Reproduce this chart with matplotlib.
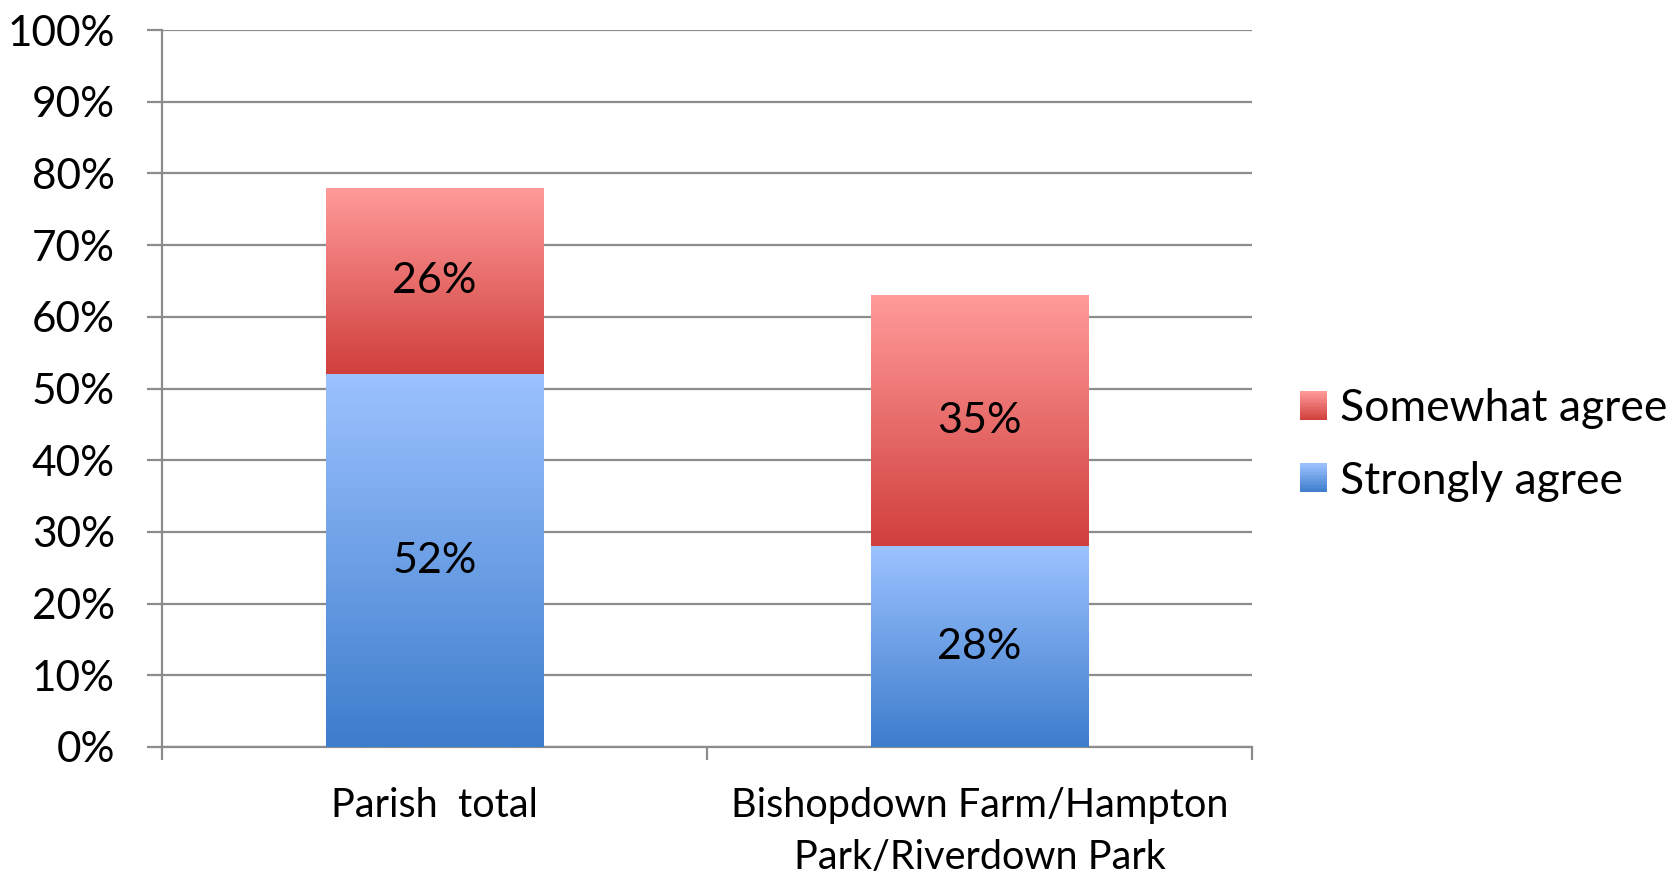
import numpy as np
import matplotlib.pyplot as plt
from matplotlib.colors import LinearSegmentedColormap
from matplotlib.patches import Rectangle
from matplotlib.legend_handler import HandlerBase

plt.rcParams['font.family'] = ['Lato', 'DejaVu Sans']

areas = ['Parish  total', 'Bishopdown Farm/Hampton\nPark/Riverdown Park']
strongly = [52, 28]
somewhat = [26, 35]

blue_cm = LinearSegmentedColormap.from_list('b', ['#3D7DCC', '#9CC2FF'])
red_cm = LinearSegmentedColormap.from_list('r', ['#D03F3C', '#FF9B9A'])

fig = plt.figure(figsize=(16.73, 8.73), dpi=100)
ax = fig.add_axes([162/1673, 1-747/873, 1090/1673, 717/873])

x = np.arange(len(areas))
w = 0.40
grad = np.linspace(0, 1, 256).reshape(-1, 1)

def gbar(xc, bottom, h, cmap):
    b = ax.bar(xc, h, w, bottom=bottom, color='none', zorder=3)[0]
    im = ax.imshow(grad, cmap=cmap, origin='lower', aspect='auto',
                   extent=[xc - w/2, xc + w/2, bottom, bottom + h], zorder=3)
    im.set_clip_path(b)
    return b

for i in range(len(areas)):
    gbar(x[i], 0, strongly[i], blue_cm)
    gbar(x[i], strongly[i], somewhat[i], red_cm)
    ax.text(x[i], strongly[i]/2, '%d%%' % strongly[i], ha='center', va='center',
            fontsize=31, zorder=4)
    ax.text(x[i], strongly[i] + somewhat[i]/2, '%d%%' % somewhat[i], ha='center',
            va='center', fontsize=31, zorder=4)

ax.set_xlim(-0.5, 1.5)
ax.set_ylim(0, 100)
ax.set_yticks(range(0, 101, 10))
ax.set_yticklabels(['%d%%' % v for v in range(0, 101, 10)], fontsize=30.5)
ax.yaxis.grid(True, color='#8c8c8c', linewidth=1.6, zorder=0)
ax.set_axisbelow(True)

ax.set_xticks([-0.5, 0.5, 1.5])
ax.set_xticklabels([])
ax.set_xticks(x, minor=True)
ax.set_xticklabels(areas, minor=True, fontsize=28.5, linespacing=1.5)
ax.tick_params(axis='x', which='minor', length=0, pad=29)
ax.tick_params(axis='x', which='major', length=9.5, width=1.6, color='#8c8c8c')
ax.tick_params(axis='y', length=11, width=1.6, color='#8c8c8c', pad=23)

for s in ['top', 'right']:
    ax.spines[s].set_visible(False)
ax.spines['left'].set_color('#8c8c8c')
ax.spines['left'].set_linewidth(1.6)
ax.spines['bottom'].set_color('#8c8c8c')
ax.spines['bottom'].set_linewidth(1.6)


class GradHandler(HandlerBase):
    def __init__(self, cmap):
        super().__init__()
        self.cmap = cmap

    def create_artists(self, legend, orig_handle, xdescent, ydescent,
                       width, height, fontsize, trans):
        n = 20
        parts = []
        for k in range(n):
            r = Rectangle((-xdescent, -ydescent + height*k/n), width, height/n + 0.3,
                          facecolor=self.cmap((k + 0.5)/n), edgecolor='none',
                          transform=trans)
            parts.append(r)
        return parts


h_red = Rectangle((0, 0), 1, 1)
h_blue = Rectangle((0, 0), 1, 1)
fig.legend([h_red, h_blue], ['Somewhat agree', 'Strongly agree'], loc='center left',
           bbox_to_anchor=(1300/1673, 1-445/873), frameon=False, fontsize=32,
           borderpad=0, borderaxespad=0,
           handlelength=0.6, handleheight=0.6, handletextpad=0.3, labelspacing=0.7,
           handler_map={h_red: GradHandler(red_cm), h_blue: GradHandler(blue_cm)})

fig.savefig('out.png', dpi=100)
